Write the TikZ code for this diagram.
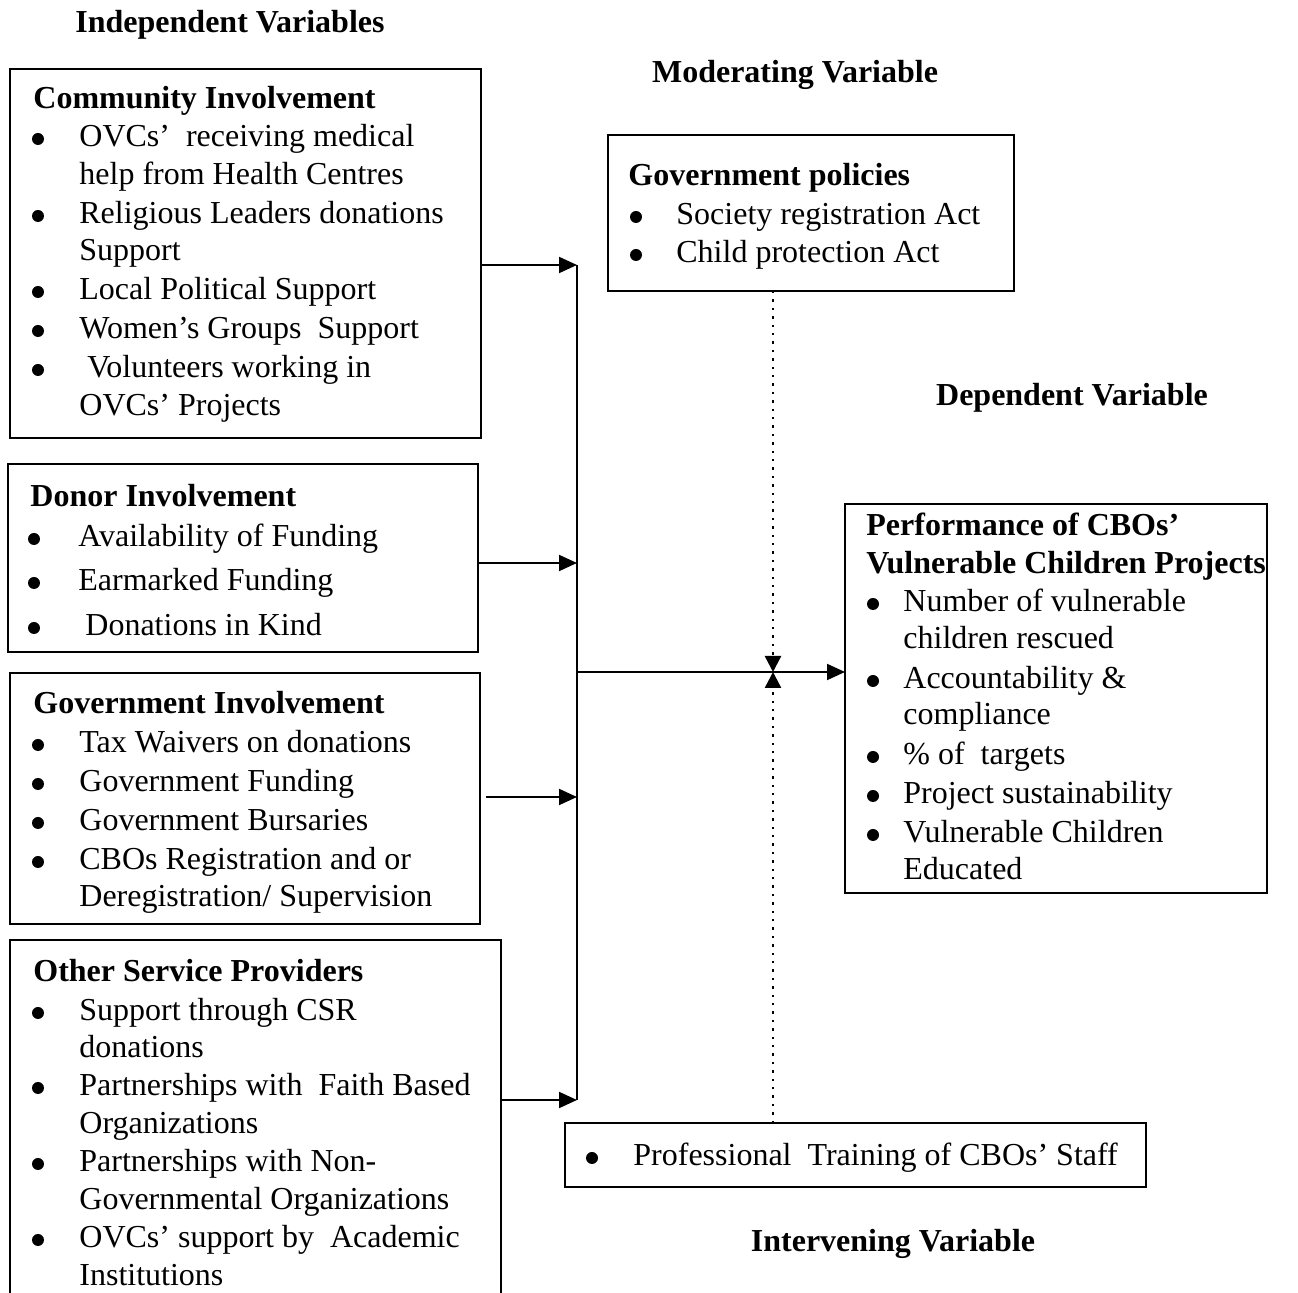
\documentclass[tikz,border=0pt]{standalone}
\usepackage{fontspec}
\setmainfont{Liberation Serif}
\usetikzlibrary{arrows.meta}
\newcommand\mkbox[6][]{\node[boxs,#1,anchor=north west,minimum width={(#5-#3)*0.5pt},minimum height={(#6-#4)*0.5pt}] (#2) at (#3,#4) {};}
\newcommand\bitem[5]{\fill (#2,#4-8) circle (3pt); \node[txt] (#1) at (#3,#4) {#5};}
\newcommand\tline[4]{\node[txt] (#1) at (#2,#3) {#4};}
\newcommand\ttitle[4]{\node[ttl] (#1) at (#2,#3) {#4};}
\begin{document}
\begin{tikzpicture}[x=0.5pt,y=-0.5pt,
  boxs/.style={draw,line width=1pt,inner sep=0pt,outer sep=0pt},
  txt/.style={anchor=base west,inner sep=0pt,font=\fontsize{16}{19}\selectfont},
  ttl/.style={txt,font=\fontsize{16}{19}\selectfont\bfseries},
  head/.style={anchor=base,inner sep=0pt,font=\fontsize{16}{19}\selectfont\bfseries},
  conn/.style={line width=1pt},
  arr/.style={conn,-{Triangle[length=9pt,width=8pt]}},
  dots/.style={line width=1.2pt,dash pattern=on 1.2pt off 3pt,-{Triangle[length=8pt,width=8pt]}}]
\useasboundingbox (0,0) rectangle (1298,1293);
\clip (0,0) rectangle (1298,1293);

% headings
\node[head] (hind) at (230,33) {Independent Variables};
\node[head] (hmod) at (795,83) {Moderating Variable};
\node[head] (hdep) at (1072,406) {Dependent Variable};
\node[head] (hint) at (893,1252) {Intervening Variable};

% Community Involvement
\mkbox{cb}{10}{69}{481}{438}
\ttitle{cbt}{33}{109}{Community Involvement}
\bitem{cb1}{38}{79}{147}{OVCs’\ \ receiving medical}
\tline{cb1b}{79}{185}{help from Health Centres}
\bitem{cb2}{38}{79}{224}{Religious Leaders donations}
\tline{cb2b}{79}{261}{Support}
\bitem{cb3}{38}{79}{300}{Local Political Support}
\bitem{cb4}{38}{79}{339}{Women’s Groups\ \ Support}
\bitem{cb5}{38}{87}{378}{Volunteers working in}
\tline{cb5b}{79}{416}{OVCs’ Projects}

% Donor Involvement
\mkbox{di}{8}{464}{478}{652}
\ttitle{dit}{30}{507}{Donor Involvement}
\bitem{di1}{34}{78}{547}{Availability of Funding}
\bitem{di2}{34}{78}{591}{Earmarked Funding}
\bitem{di3}{34}{85}{636}{Donations in Kind}

% Government Involvement
\mkbox{gi}{10}{673}{480}{924}
\ttitle{git}{33}{714}{Government Involvement}
\bitem{gi1}{38}{79}{753}{Tax Waivers on donations}
\bitem{gi2}{38}{79}{792}{Government Funding}
\bitem{gi3}{38}{79}{831}{Government Bursaries}
\bitem{gi4}{38}{79}{870}{CBOs Registration and or}
\tline{gi4b}{79}{907}{Deregistration/ Supervision}

% Other Service Providers
\mkbox{os}{10}{940}{501}{1310}
\ttitle{ost}{33}{982}{Other Service Providers}
\bitem{os1}{38}{79}{1021}{Support through CSR}
\tline{os1b}{79}{1058}{donations}
\bitem{os2}{38}{79}{1096}{Partnerships with\ \ Faith Based}
\tline{os2b}{79}{1134}{Organizations}
\bitem{os3}{38}{79}{1172}{Partnerships with Non-}
\tline{os3b}{79}{1210}{Governmental Organizations}
\bitem{os4}{38}{79}{1248}{OVCs’ support by\ \ Academic}
\tline{os4b}{79}{1286}{Institutions}

% Government policies
\mkbox[line width=0.6pt]{gp}{608}{135}{1014}{291}
\ttitle{gpt}{628}{186}{Government policies}
\bitem{gp1}{636}{676}{225}{Society registration Act}
\bitem{gp2}{636}{676}{263}{Child protection Act}

% Performance
\mkbox{pf}{845}{504}{1267}{893}
\ttitle{pft1}{866}{536}{Performance of CBOs’}
\ttitle{pft2}{866}{574}{Vulnerable Children Projects}
\bitem{pf1}{873}{903}{612}{Number of vulnerable}
\tline{pf1b}{903}{649}{children rescued}
\bitem{pf2}{873}{903}{689}{Accountability \&}
\tline{pf2b}{903}{725}{compliance}
\bitem{pf3}{873}{903}{765}{\%\ of\ \ targets}
\bitem{pf4}{873}{903}{804}{Project sustainability}
\bitem{pf5}{873}{903}{843}{Vulnerable Children}
\tline{pf5b}{903}{880}{Educated}

% Intervening
\mkbox{iv}{565}{1123}{1146}{1187}
\bitem{iv1}{592}{633}{1166}{Professional\ \ Training of CBOs’ Staff}

% connectors
\coordinate (j1) at (577,265);
\coordinate (j2) at (577,563);
\coordinate (j3) at (577,797);
\coordinate (j4) at (577,1100);
\coordinate (jm) at (577,672);
\coordinate (mx) at (773,672);
\draw[conn] (j1) -- (j4);
\draw[arr] (cb.east |- j1) -- (j1);
\draw[arr] (di.east |- j2) -- (j2);
\draw[arr,shorten <=3pt] (gi.east |- j3) -- (j3);
\draw[arr] (os.east |- j4) -- (j4);
\draw[arr] (jm) -- (pf.west |- jm);
\draw[dots] (gp.south -| mx) -- (mx);
\draw[dots] (iv.north -| mx) -- (mx);
\end{tikzpicture}
\end{document}
